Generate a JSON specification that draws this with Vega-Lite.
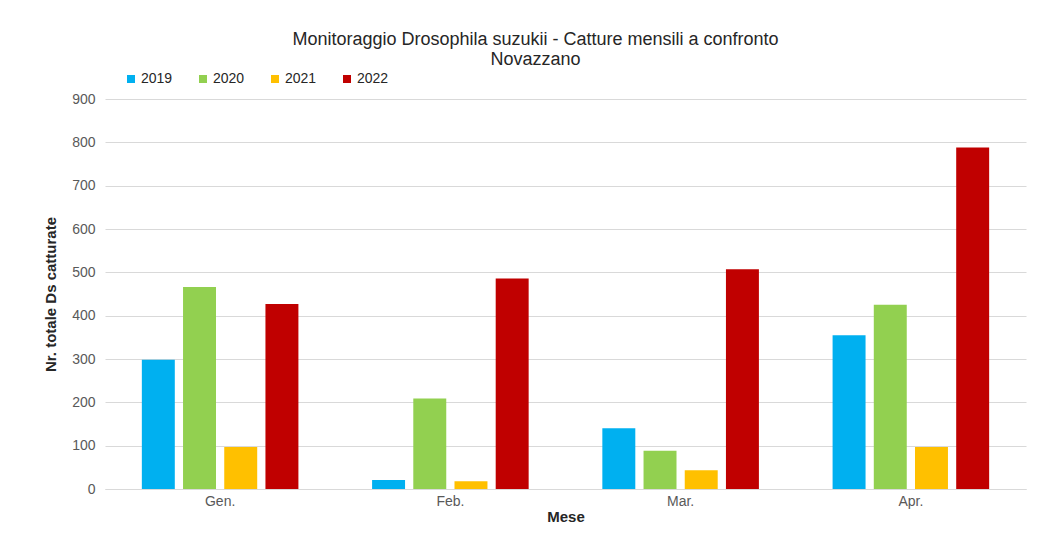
{
  "$schema": "https://vega.github.io/schema/vega-lite/v6.json",
  "width": 921,
  "height": 390,
  "autosize": {"type": "none"},
  "padding": {"left": 105, "top": 99, "right": 23, "bottom": 47},
  "background": "white",
  "title": {
    "text": ["Monitoraggio Drosophila suzukii - Catture mensili a confronto", "Novazzano"],
    "anchor": "middle",
    "frame": "group",
    "dx": -30,
    "offset": 3,
    "font": "Liberation Sans",
    "fontSize": 18,
    "fontWeight": "normal",
    "color": "#262626",
    "lineHeight": 20
  },
  "data": {
    "values": [
      {"mese": "Gen.", "anno": "2019", "catture": 298},
      {"mese": "Gen.", "anno": "2020", "catture": 466},
      {"mese": "Gen.", "anno": "2021", "catture": 97},
      {"mese": "Gen.", "anno": "2022", "catture": 427},
      {"mese": "Feb.", "anno": "2019", "catture": 21},
      {"mese": "Feb.", "anno": "2020", "catture": 209},
      {"mese": "Feb.", "anno": "2021", "catture": 18},
      {"mese": "Feb.", "anno": "2022", "catture": 486},
      {"mese": "Mar.", "anno": "2019", "catture": 140},
      {"mese": "Mar.", "anno": "2020", "catture": 88},
      {"mese": "Mar.", "anno": "2021", "catture": 43},
      {"mese": "Mar.", "anno": "2022", "catture": 507},
      {"mese": "Apr.", "anno": "2019", "catture": 355},
      {"mese": "Apr.", "anno": "2020", "catture": 425},
      {"mese": "Apr.", "anno": "2021", "catture": 97},
      {"mese": "Apr.", "anno": "2022", "catture": 788}
    ]
  },
  "mark": {"type": "bar"},
  "encoding": {
    "x": {
      "field": "mese",
      "type": "nominal",
      "sort": ["Gen.", "Feb.", "Mar.", "Apr."],
      "scale": {"paddingInner": 0.32, "paddingOuter": 0.16},
      "axis": {
        "title": "Mese",
        "titleFont": "Liberation Sans",
        "titleFontSize": 15,
        "titleFontWeight": "bold",
        "titleColor": "#262626",
        "titlePadding": 1,
        "labelAngle": 0,
        "labelFont": "Liberation Sans",
        "labelFontSize": 14,
        "labelColor": "#595959",
        "labelPadding": 5,
        "ticks": false,
        "domainColor": "#d9d9d9",
        "grid": false
      }
    },
    "xOffset": {
      "field": "anno",
      "type": "nominal",
      "scale": {"paddingInner": 0.2}
    },
    "y": {
      "field": "catture",
      "type": "quantitative",
      "scale": {"domain": [0, 900]},
      "axis": {
        "title": "Nr. totale Ds catturate",
        "titleFont": "Liberation Sans",
        "titleFontSize": 15,
        "titleFontWeight": "bold",
        "titleColor": "#262626",
        "titlePadding": 13,
        "values": [0, 100, 200, 300, 400, 500, 600, 700, 800, 900],
        "labelFont": "Liberation Sans",
        "labelFontSize": 14,
        "labelColor": "#595959",
        "labelPadding": 10,
        "ticks": false,
        "domain": false,
        "gridColor": "#d9d9d9",
        "gridWidth": 1
      }
    },
    "color": {
      "field": "anno",
      "type": "nominal",
      "scale": {
        "domain": ["2019", "2020", "2021", "2022"],
        "range": ["#00B0F0", "#92D050", "#FFC000", "#C00000"]
      },
      "legend": {
        "title": null,
        "orient": "none",
        "legendX": 19,
        "legendY": -27,
        "direction": "horizontal",
        "columns": 4,
        "symbolType": "square",
        "symbolSize": 64,
        "symbolStrokeWidth": 0,
        "labelFont": "Liberation Sans",
        "labelFontSize": 14,
        "labelColor": "#262626",
        "labelOffset": 3,
        "columnPadding": 23
      }
    }
  },
  "config": {"view": {"stroke": null}}
}
